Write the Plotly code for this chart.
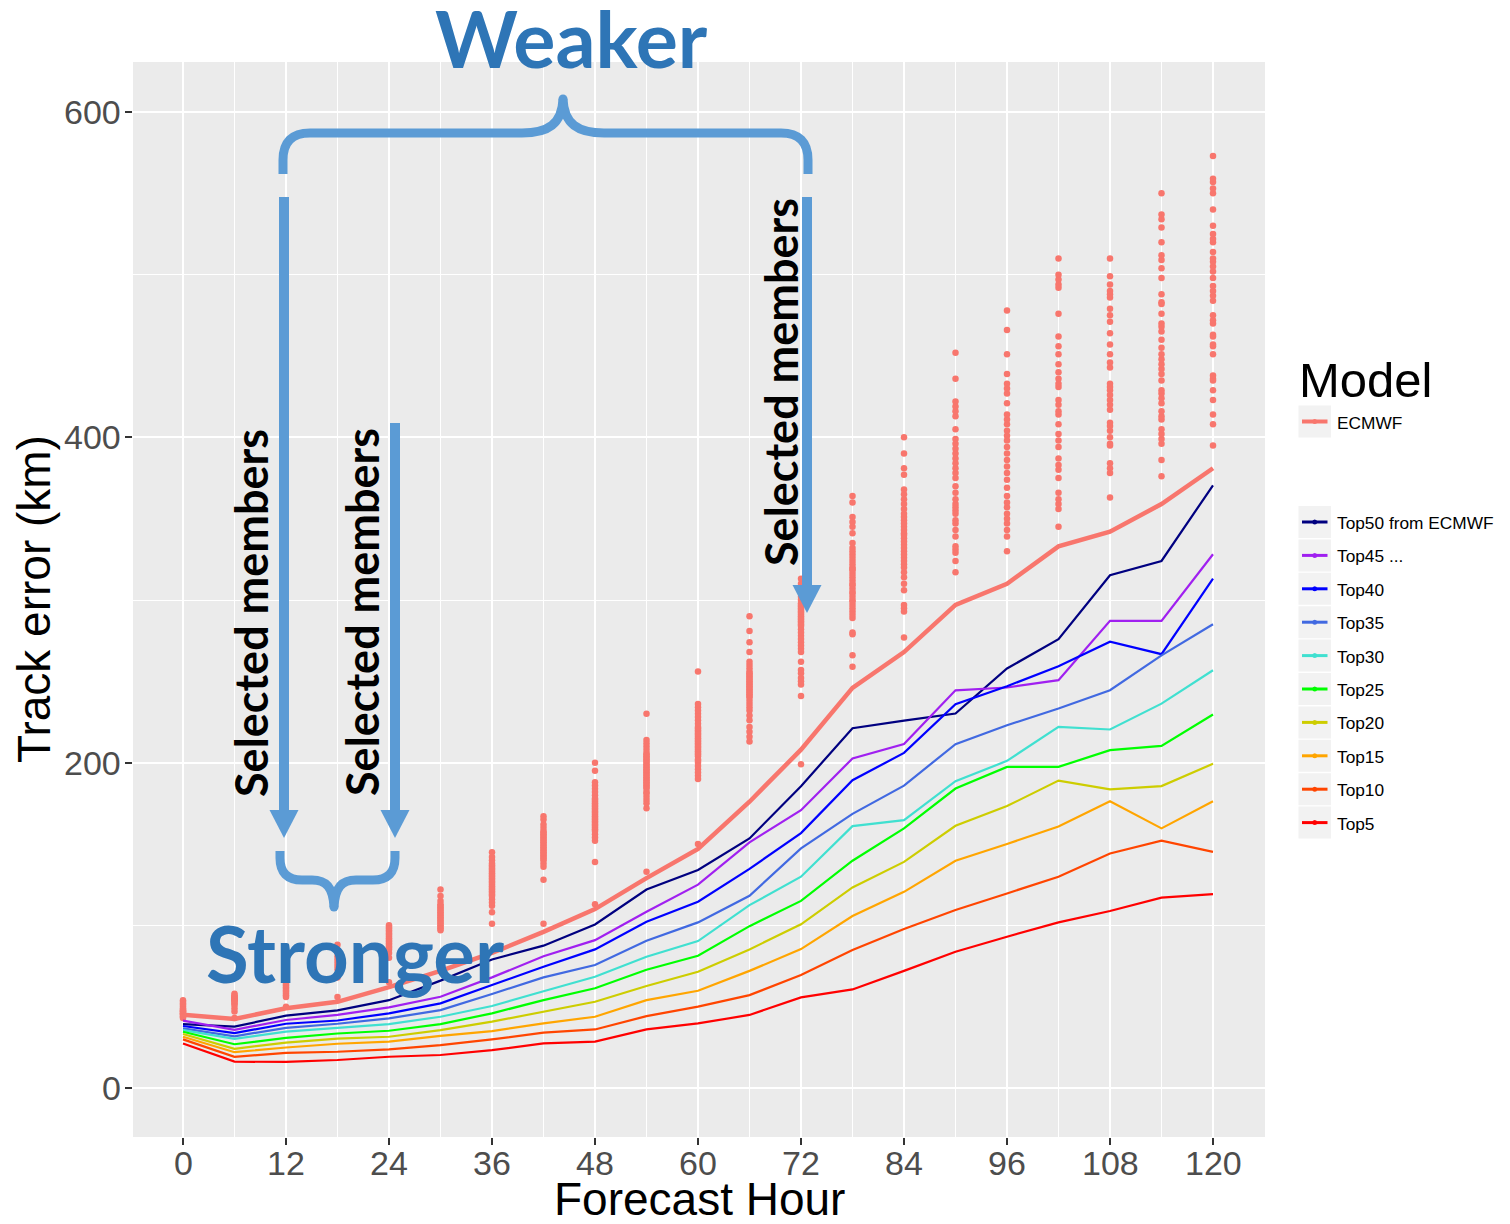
import plotly.graph_objects as go

# ---------------------------------------------------------------- data
hours = list(range(0, 121, 6))
x_ticks = list(range(0, 121, 12))
y_ticks = [0, 200, 400, 600]

ecmwf_mean = [45, 42.5, 49, 53, 62, 72, 83, 96, 110, 129, 147, 176, 208,
              246, 268, 297, 310, 333, 342, 359, 381]

top50 = [39.3, 37.7, 44.5, 47.7, 54.0, 66.0, 79.0, 87.5, 100.5, 122.0, 134.0,
         153.4, 185.5, 221.2, 225.8, 230.2, 257.9, 275.9, 315.2, 324.0, 370.5]
top45 = [41.4, 35.8, 41.8, 44.9, 49.6, 56.1, 68.0, 81.0, 90.9, 108.4, 125.0,
         151.0, 170.8, 202.6, 211.4, 244.5, 246.2, 250.7, 287.2, 287.2, 328.1]
top40 = [38.1, 33.8, 39.5, 41.5, 45.9, 52.0, 63.3, 74.5, 85.2, 102.2, 114.5,
         134.7, 156.7, 189.2, 206.0, 236.0, 247.0, 259.3, 274.4, 266.7, 313.2]
top35 = [36.7, 31.8, 37.0, 39.5, 42.8, 47.9, 57.8, 68.0, 75.6, 90.5, 101.8,
         118.2, 147.3, 168.5, 185.9, 211.4, 223.0, 233.3, 244.5, 266.0, 285.1]
top30 = [35.6, 30.2, 34.7, 36.8, 39.3, 43.8, 50.4, 59.5, 68.4, 80.7, 90.3,
         112.4, 129.9, 161.0, 164.7, 188.6, 201.1, 222.0, 220.4, 236.3, 256.8]
top25 = [34.6, 26.9, 30.8, 33.5, 35.2, 39.3, 45.9, 54.0, 61.3, 72.7, 81.3,
         99.5, 115.0, 139.7, 159.6, 184.1, 197.4, 197.4, 207.7, 210.3, 229.6]
top20 = [33.2, 24.1, 27.9, 30.3, 31.5, 35.6, 40.8, 46.9, 53.0, 62.7, 71.5,
         85.2, 100.6, 123.3, 139.0, 161.2, 173.3, 189.0, 183.6, 185.6, 199.4]
top15 = [31.5, 22.0, 24.9, 27.2, 28.5, 32.0, 35.0, 39.7, 43.8, 54.0, 59.8,
         72.0, 85.4, 105.7, 120.6, 139.7, 150.0, 160.7, 176.3, 159.6, 176.3]
top10 = [29.9, 19.2, 21.6, 22.3, 23.8, 26.4, 29.9, 34.0, 36.0, 44.2, 50.0,
         57.1, 69.4, 84.8, 97.7, 109.4, 119.6, 129.9, 144.2, 152.0, 145.2]
top5 = [27.4, 16.2, 16.0, 17.2, 19.2, 20.3, 23.3, 27.4, 28.5, 36.0, 39.7,
        44.9, 55.7, 60.6, 72.0, 83.8, 93.0, 101.8, 108.8, 117.0, 119.2]

top_labels = ["Top50 from ECMWF", "Top45 ...", "Top40", "Top35", "Top30",
              "Top25", "Top20", "Top15", "Top10", "Top5"]
top_colors = ["#000080", "#A020F0", "#0000FF", "#4169E1", "#40E0D0",
              "#00FF00", "#CDCD00", "#FFA500", "#FF4500", "#FF0000"]
top_series = [top50, top45, top40, top35, top30, top25, top20, top15, top10, top5]

# individual ECMWF member errors (km) at each forecast hour
members_000 = [43, 44, 44, 45, 45, 46, 46, 47, 47, 48, 48, 49, 50, 51, 52, 53, 54]
members_006 = [43, 47, 49, 51, 52, 53, 54, 54, 55, 55, 56, 56, 57, 58]
members_012 = [50, 56, 57, 58, 59, 60, 61, 62, 63, 64, 65, 66, 67, 68, 69, 71, 74]
members_018 = [56, 68, 70, 73, 75, 77, 79, 81, 84, 88]
members_024 = [65, 80, 83, 85, 86, 87, 88, 89, 90, 91, 92, 93, 94, 95, 96, 97,
               98, 99, 100]
members_030 = [97, 98, 99, 100, 101, 102, 103, 104, 105, 106, 107, 108, 109,
               110, 111, 112, 113, 115, 118, 122]
members_036 = [101, 108, 112, 114, 116, 118, 119, 120, 121, 122, 123, 124, 125,
               126, 127, 128, 129, 130, 131, 132, 133, 134, 135, 136, 137, 138,
               140, 142, 145]
members_042 = [101, 128, 136, 138, 140, 141, 142, 143, 144, 145, 146, 147, 148,
               149, 150, 151, 152, 153, 154, 155, 156, 157, 158, 160, 162, 165, 167]
members_048 = [113, 139, 152, 154, 156, 158, 159, 160, 161, 162, 163, 164, 165,
               166, 167, 168, 169, 170, 171, 172, 173, 174, 175, 176, 177, 178,
               180, 182, 184, 186, 188, 195, 200]
members_054 = [133, 172, 175, 177, 179, 181, 182, 184, 185, 186, 187, 188, 189,
               190, 191, 192, 193, 194, 195, 196, 197, 198, 199, 200, 201, 202,
               203, 204, 205, 206, 208, 210, 212, 214, 230]
members_060 = [150, 190, 192, 194, 196, 198, 200, 201, 202, 204, 205, 206, 207,
               208, 209, 210, 211, 212, 213, 214, 215, 216, 217, 218, 219, 220,
               221, 222, 224, 226, 228, 230, 232, 234, 236, 256]
members_066 = [213, 216, 219, 222, 226, 229, 232, 234, 236, 238, 240, 241, 242,
               243, 244, 245, 246, 247, 248, 249, 250, 251, 252, 253, 254, 255,
               256, 258, 260, 262, 268, 274, 281, 290]
members_072 = [199, 241, 248, 250, 252, 255, 257, 262, 268, 270, 272, 274, 276,
               278, 280, 282, 284, 285, 286, 287, 288, 289, 290, 291, 292, 293,
               294, 295, 296, 297, 298, 300, 302, 304, 306, 308, 310, 313]
members_078 = [259, 266, 279, 280, 289, 291, 293, 295, 297, 299, 300, 302, 304,
               305, 307, 309, 310, 312, 314, 316, 318, 319, 320, 322, 324, 326,
               328, 330, 332, 335, 341, 345, 348, 351, 360, 364]
members_084 = [277, 293, 295, 297, 306, 310, 314, 317, 320, 322, 324, 326, 328,
               330, 332, 334, 336, 338, 340, 341, 343, 345, 347, 349, 351, 353,
               356, 359, 362, 365, 368, 377, 381, 390, 400]
members_090 = [317, 324, 329, 331, 333, 339, 343, 347, 349, 353, 355, 357, 359,
               362, 366, 370, 375, 378, 381, 384, 387, 390, 393, 396, 399, 405,
               413, 416, 419, 422, 436, 452]
members_096 = [330, 339, 343, 347, 350, 353, 357, 360, 364, 369, 374, 378, 382,
               386, 390, 394, 398, 401, 404, 408, 411, 414, 421, 427, 430, 433,
               439, 451, 466, 478]
members_102 = [345, 356, 359, 362, 366, 375, 380, 383, 387, 394, 398, 402, 408,
               414, 416, 420, 423, 431, 433, 436, 440, 445, 451, 456, 462, 476,
               492, 494, 497, 500, 510]
members_108 = [363, 378, 381, 384, 395, 396, 400, 404, 407, 409, 417, 420, 423,
               426, 429, 431, 433, 443, 446, 451, 457, 464, 471, 475, 479, 486,
               488, 490, 494, 499, 510]
members_114 = [376, 386, 396, 399, 402, 405, 411, 413, 416, 421, 424, 427, 429,
               435, 439, 442, 445, 448, 451, 455, 460, 465, 468, 470, 476, 482,
               483, 488, 498, 504, 509, 512, 520, 529, 534, 537, 550]
members_120 = [395, 408, 414, 423, 429, 435, 436, 438, 451, 456, 457, 462, 463,
               470, 472, 475, 484, 487, 490, 493, 498, 502, 505, 508, 510, 514,
               520, 522, 525, 530, 540, 550, 553, 557, 559, 573]

member_columns = [members_000, members_006, members_012, members_018, members_024,
                  members_030, members_036, members_042, members_048, members_054,
                  members_060, members_066, members_072, members_078, members_084,
                  members_090, members_096, members_102, members_108, members_114,
                  members_120]

ECMWF_COLOR = "#F8766D"
ARROW_BLUE = "#5B9BD5"
TEXT_BLUE = "#2E75B6"

# ---------------------------------------------------------------- layout geometry
W, H = 1510, 1224
L, R, T, B = 133, 245, 62, 87
PW, PH = W - L - R, H - T - B


def px(x):
    return (x - L) / PW


def py(y):
    return (H - B - y) / PH


def svg_path(*segs):
    parts = []
    for cmd, *pts in segs:
        parts.append(cmd + " ".join(f"{px(x):.5f},{py(y):.5f}" for x, y in pts))
    return " ".join(parts)


fig = go.Figure()

# member scatter
mx, my = [], []
for h, col in zip(hours, member_columns):
    mx.extend([h] * len(col))
    my.extend(col)
fig.add_trace(go.Scatter(x=mx, y=my, mode="markers", showlegend=False,
                         marker=dict(size=6.5, color=ECMWF_COLOR, line=dict(width=0)),
                         hoverinfo="skip"))

# ensemble-mean track error
fig.add_trace(go.Scatter(x=hours, y=ecmwf_mean, mode="lines", name="ECMWF",
                         showlegend=False,
                         line=dict(color=ECMWF_COLOR, width=4.5)))

# top-N member subsets
for lab, colr, ser in zip(top_labels, top_colors, top_series):
    fig.add_trace(go.Scatter(x=hours, y=ser, mode="lines", name=lab,
                             showlegend=False, line=dict(color=colr, width=2.2)))

shapes = []
annotations = []

# ---------------------------------------------------------------- tick labels
tick_font = dict(family="Liberation Sans", size=34, color="#4D4D4D")
for h in x_ticks:
    annotations.append(dict(text=str(h), x=h, y=py(1163), xref="x", yref="paper",
                            xanchor="center", yanchor="middle", showarrow=False,
                            font=tick_font))
for v in y_ticks:
    annotations.append(dict(text=str(v), x=px(123), y=v, xref="paper", yref="y",
                            xanchor="right", yanchor="middle", showarrow=False,
                            font=tick_font))

# ---------------------------------------------------------------- legend (hand drawn)
annotations.append(dict(text="Model", x=px(1297), y=py(380), xref="paper", yref="paper",
                        xanchor="left", yanchor="middle", showarrow=False,
                        font=dict(family="Liberation Sans", size=49, color="black")))

legend_rows = [("ECMWF", ECMWF_COLOR, 421.5, 4)]
for i, (lab, colr) in enumerate(zip(top_labels, top_colors)):
    legend_rows.append((lab, colr, 522 + i * 33.4, 3))

for lab, colr, yc, lw in legend_rows:
    shapes.append(dict(type="rect", xref="paper", yref="paper",
                       x0=px(1298.5), x1=px(1331), y0=py(yc - 16), y1=py(yc + 16),
                       fillcolor="#F2F2F2", line=dict(width=0), layer="above"))
    shapes.append(dict(type="line", xref="paper", yref="paper",
                       x0=px(1302), x1=px(1327.5), y0=py(yc), y1=py(yc),
                       line=dict(color=colr, width=lw), layer="above"))
    shapes.append(dict(type="circle", xref="paper", yref="paper",
                       x0=px(1312.3), x1=px(1317.2), y0=py(yc - 2.5), y1=py(yc + 2.5),
                       fillcolor=colr, line=dict(width=0), layer="above"))
    annotations.append(dict(text=lab, x=px(1335), y=py(yc + 1), xref="paper", yref="paper",
                            xanchor="left", yanchor="middle", showarrow=False,
                            font=dict(family="Liberation Sans", size=17.3, color="black")))

# ---------------------------------------------------------------- axis titles
annotations.append(dict(text="Forecast Hour", x=px(699), y=py(1199), xref="paper",
                        yref="paper", xanchor="center", yanchor="middle", showarrow=False,
                        font=dict(family="Liberation Sans", size=46, color="black")))
annotations.append(dict(text="Track error (km)", x=px(34), y=py(599), xref="paper",
                        yref="paper", xanchor="center", yanchor="middle", showarrow=False,
                        textangle=-90,
                        font=dict(family="Liberation Sans", size=46, color="black")))

# ---------------------------------------------------------------- braces and arrows
big_brace = svg_path(("M", (283, 174)), ("L", (283, 160)),
                     ("Q", (283, 133), (310, 133)), ("L", (522, 133)),
                     ("C", (548, 133), (562, 124), (563, 99)),
                     ("C", (564, 124), (578, 133), (604, 133)),
                     ("L", (781, 133)), ("Q", (808, 133), (808, 160)),
                     ("L", (808, 174)))
small_brace = svg_path(("M", (280, 851)), ("L", (280, 858)),
                       ("Q", (280, 880), (302, 880)), ("L", (312, 880)),
                       ("C", (326, 880), (333, 887), (334, 907)),
                       ("C", (335, 887), (342, 880), (356, 880)),
                       ("L", (373, 880)), ("Q", (395, 880), (395, 858)),
                       ("L", (395, 851)))
for pth in (big_brace, small_brace):
    shapes.append(dict(type="path", path=pth, xref="paper", yref="paper",
                       line=dict(color=ARROW_BLUE, width=9), layer="above"))
for cx, cy in ((563, 99), (334, 907)):
    shapes.append(dict(type="circle", xref="paper", yref="paper",
                       x0=px(cx - 4.5), x1=px(cx + 4.5), y0=py(cy - 4.5), y1=py(cy + 4.5),
                       fillcolor=ARROW_BLUE, line=dict(width=0), layer="above"))

arrows = [(284, 197, 838), (395, 423, 838), (807, 197, 613)]
for ax, ytop, ytip in arrows:
    shapes.append(dict(type="line", xref="paper", yref="paper",
                       x0=px(ax), x1=px(ax), y0=py(ytop), y1=py(ytip - 26),
                       line=dict(color=ARROW_BLUE, width=10), layer="above"))
    head = svg_path(("M", (ax - 14.5, ytip - 28)), ("L", (ax + 14.5, ytip - 28)),
                    ("L", (ax, ytip))) + " Z"
    shapes.append(dict(type="path", path=head, xref="paper", yref="paper",
                       fillcolor=ARROW_BLUE, line=dict(width=0), layer="above"))

# ---------------------------------------------------------------- callout text
callouts = [("Weaker", 571, 38, 0, 79, TEXT_BLUE),
            ("Stronger", 355, 953, 0, 78, TEXT_BLUE),
            ("Selected members", 251, 613, -90, 45, "black"),
            ("Selected members", 362, 612, -90, 45, "black"),
            ("Selected members", 781, 382, -90, 45, "black")]
for txt, cx, cy, ang, sz, colr in callouts:
    annotations.append(dict(text=txt, x=px(cx), y=py(cy), xref="paper", yref="paper",
                            xanchor="center", yanchor="middle", showarrow=False,
                            textangle=ang,
                            font=dict(family="Lato", size=sz, color=colr, weight="bold")))

# ---------------------------------------------------------------- axes
x_min = -50 / (1030 / 120)
x_max = 120 + 52 / (1030 / 120)
y_scale = 976 / 600
y_min = -(1137 - 1088) / y_scale
y_max = 600 + (112 - 62) / y_scale

fig.update_xaxes(range=[x_min, x_max], tickmode="array", tickvals=x_ticks,
                 showticklabels=False,
                 showgrid=True, gridcolor="white", gridwidth=2, zeroline=False,
                 ticks="outside", ticklen=7, tickwidth=2, tickcolor="#333333",
                 showline=False,
                 minor=dict(tickmode="array", tickvals=list(range(6, 121, 12)),
                            showgrid=True, gridcolor="white", gridwidth=1.1, ticks=""))
fig.update_yaxes(range=[y_min, y_max], tickmode="array", tickvals=y_ticks,
                 showticklabels=False,
                 showgrid=True, gridcolor="white", gridwidth=2, zeroline=False,
                 ticks="outside", ticklen=7, tickwidth=2, tickcolor="#333333",
                 showline=False,
                 minor=dict(tickmode="array", tickvals=[100, 300, 500],
                            showgrid=True, gridcolor="white", gridwidth=1.1, ticks=""))

fig.update_layout(width=W, height=H, margin=dict(l=L, r=R, t=T, b=B, pad=0),
                  paper_bgcolor="white", plot_bgcolor="#EBEBEB",
                  showlegend=False, shapes=shapes, annotations=annotations)

fig.write_html("out.html")
